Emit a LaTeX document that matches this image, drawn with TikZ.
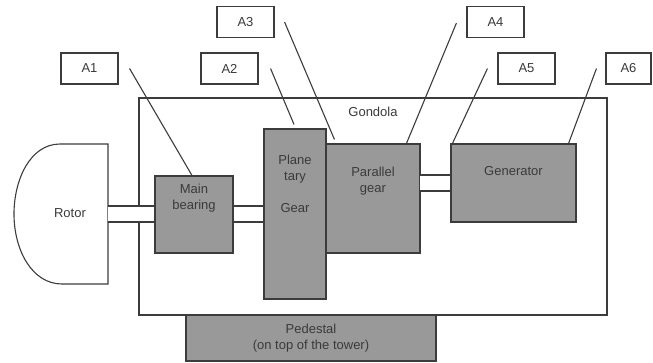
\documentclass[tikz,border=0pt]{standalone}
\usepackage{fontspec}
\setmainfont{Liberation Sans}
\usetikzlibrary{calc}
\definecolor{boxfill}{HTML}{999999}
\definecolor{linec}{HTML}{3C3C3C}
\definecolor{textc}{HTML}{3A3A3A}
\begin{document}
\begin{tikzpicture}[x=1pt,y=-1pt,
  every node/.style={font=\fontsize{13}{16}\selectfont, text=textc},
  gbox/.style={draw=linec, line width=1.1pt, fill=boxfill, inner sep=0pt},
  lbox/.style={draw=linec, line width=1.1pt, fill=white, inner sep=0pt, minimum height=31pt},
  txt/.style={align=center, inner sep=0pt},
  leader/.style={draw=linec, line width=1.1pt},
  shaftline/.style={draw=linec, line width=1.1pt}]
\useasboundingbox (0,0) rectangle (653,362);
% gondola
\node[draw=linec, line width=1.1pt, fill=white, minimum width=468pt, minimum height=217pt, inner sep=0pt] (gon) at (373,206.5) {};
\node[txt] (gonlbl) at (373,112) {Gondola};
% rotor
\draw[draw=linec, line width=1.1pt, fill=white] (108,144) -- (60,144) .. controls (30,144) and (14,180) .. (14,214) .. controls (14,250) and (32,284) .. (62,284) -- (108,284) -- cycle;
\node[txt] (rotor) at (70,213) {Rotor};
% component boxes
\node[gbox, minimum width=78pt, minimum height=77pt] (mb) at (194,214.5) {};
\node[gbox, minimum width=62pt, minimum height=170pt] (pg) at (295,214) {};
\node[gbox, minimum width=94pt, minimum height=109pt] (par) at (373,198.5) {};
\node[gbox, minimum width=125pt, minimum height=78pt] (gen) at (513.5,183) {};
\node[gbox, minimum width=250pt, minimum height=46pt] (ped) at (311,338) {};
\node[txt] (mbt) at (194,198) {Main\\bearing};
\node[txt] (pgt) at (295,184) {Plane\\tary\\[16pt]Gear};
\node[txt] (part) at (373,181) {Parallel\\gear};
\node[txt] (gent) at (513.5,171) {Generator};
\node[txt] (pedt) at (311,338) {Pedestal\\(on top of the tower)};
% shafts
\coordinate (r1) at (108,206);
\coordinate (r2) at (108,222);
\fill[white] (r1) rectangle (mb.west |- r2);
\draw[shaftline] (r1) -- (mb.west |- r1);
\draw[shaftline] (r2) -- (mb.west |- r2);
\fill[white] (mb.east |- r1) rectangle (pg.west |- r2);
\draw[shaftline] (mb.east |- r1) -- (pg.west |- r1);
\draw[shaftline] (mb.east |- r2) -- (pg.west |- r2);
\coordinate (g1) at (420,175);
\coordinate (g2) at (420,191);
\fill[white] (g1) rectangle (gen.west |- g2);
\draw[shaftline] (g1) -- (gen.west |- g1);
\draw[shaftline] (g2) -- (gen.west |- g2);
% label boxes
\node[lbox, minimum width=57pt] (A1) at (89.5,68.5) {A1};
\node[lbox, minimum width=57pt] (A2) at (229.5,68.5) {A2};
\node[lbox, minimum width=57pt] (A3) at (245.5,22) {A3};
\node[lbox, minimum width=57pt] (A4) at (495.5,22) {A4};
\node[lbox, minimum width=57pt] (A5) at (526.5,68.5) {A5};
\node[lbox, minimum width=45pt] (A6) at (628.5,68.5) {A6};
% leaders
\draw[leader] ($(A1.east)+(11,0)$) -- ($(mb.north)+(-2,0)$);
\draw[leader] ($(A2.east)+(12,0)$) -- ($(pg.north)+(-1,-4)$);
\draw[leader] ($(A3.east)+(10,0)$) -- ($(par.north west)+(9,-4)$);
\draw[leader] ($(A4.west)+(-10,1)$) -- ($(par.north west)+(81,0)$);
\draw[leader] ($(A5.west)+(-10,0)$) -- ($(gen.north west)+(2,0)$);
\draw[leader] ($(A6.west)+(-9,0)$) -- ($(gen.north east)+(-8,0)$);
\end{tikzpicture}
\end{document}
